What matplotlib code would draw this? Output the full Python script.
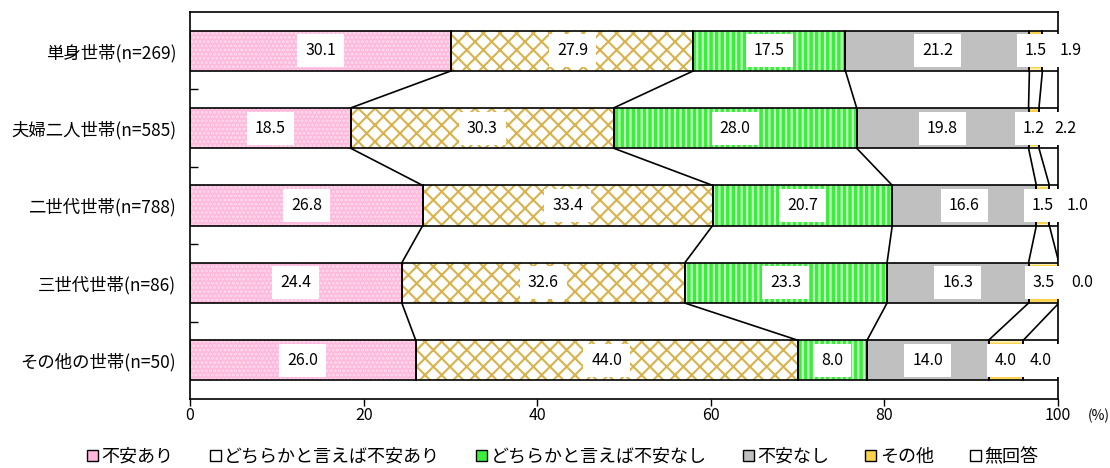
import matplotlib.pyplot as plt
from matplotlib.patches import Patch

plt.rcParams['font.family'] = ['Noto Sans CJK JP', 'DejaVu Sans']
plt.rcParams['hatch.linewidth'] = 1.5

# data
groups = ["単身世帯(n=269)", "夫婦二人世帯(n=585)", "二世代世帯(n=788)",
          "三世代世帯(n=86)", "その他の世帯(n=50)"]
answers = ["不安あり", "どちらかと言えば不安あり", "どちらかと言えば不安なし",
           "不安なし", "その他", "無回答"]
fuan_ari = [30.1, 18.5, 26.8, 24.4, 26.0]
dochira_ari = [27.9, 30.3, 33.4, 32.6, 44.0]
dochira_nashi = [17.5, 28.0, 20.7, 23.3, 8.0]
fuan_nashi = [21.2, 19.8, 16.6, 16.3, 14.0]
sonota = [1.5, 1.2, 1.5, 3.5, 4.0]
mukaitou = [1.9, 2.2, 1.0, 0.0, 4.0]
series = [fuan_ari, dochira_ari, dochira_nashi, fuan_nashi, sonota, mukaitou]

# styles: face colour, hatch, hatch colour
styles = [
    ("#ffb8dc", "....", "#ffdcee"),
    ("white", "xx", "#d8b24c"),
    ("#3bee3b", "|||", "#c8ffc8"),
    ("#c0c0c0", None, "#c0c0c0"),
    ("#fbd34c", "---", "#fff2b8"),
    ("white", None, "white"),
]
# label nudges for the thin 無回答 segments (drawn outside the bar)
nr_label_x = [101.4, 100.9, 102.2, 102.8, None]

fig = plt.figure(figsize=(11.1, 4.68), dpi=100)
ax = fig.add_axes([0.1712, 0.1474, 0.782, 0.827])

bar_h = 0.52
ypos = list(range(len(groups)))
lefts = [0.0] * len(groups)
cums = []
for k, vals in enumerate(series):
    face, hatch, hcol = styles[k]
    ax.barh(ypos, vals, left=lefts, height=bar_h, color=face, hatch=hatch,
            edgecolor=hcol, linewidth=0, zorder=2)
    ax.barh(ypos, vals, left=lefts, height=bar_h, fill=False,
            edgecolor="black", linewidth=1.2, zorder=3)
    for i, v in enumerate(vals):
        x = lefts[i] + v / 2
        if k == 5 and nr_label_x[i] is not None:
            x = nr_label_x[i]
        ax.text(x, i, f"{v:.1f}", ha="center", va="center", fontsize=11.5,
                zorder=5, bbox=dict(boxstyle="square,pad=0.5", fc="white", ec="none"))
    lefts = [lefts[i] + vals[i] for i in range(len(groups))]
    cums.append(list(lefts))

# connector lines between bars
for k in range(len(series) - 1):
    for i in range(len(groups) - 1):
        ax.plot([cums[k][i], cums[k][i + 1]], [i + bar_h / 2, i + 1 - bar_h / 2],
                color="black", linewidth=1.2, zorder=4)

ax.set_xlim(0, 100)
ax.set_ylim(len(groups) - 0.5, -0.5)
ax.set_yticks(ypos)
ax.set_yticklabels(groups, fontsize=12.5)
ax.tick_params(axis="y", which="major", length=0, pad=10)
ax.set_yticks([0.5, 1.5, 2.5, 3.5], minor=True)
ax.tick_params(axis="y", which="minor", direction="in", length=6, width=1)
ax.set_xticks([0, 20, 40, 60, 80, 100])
ax.tick_params(axis="x", direction="out", length=5, width=1, labelsize=11.5, pad=1)
for s in ax.spines.values():
    s.set_linewidth(1.2)
ax.text(1.047, -0.025, "(%)", transform=ax.transAxes, fontsize=10,
        ha="center", va="top")

handles = [Patch(facecolor=styles[k][0], edgecolor="black", linewidth=1)
           for k in range(len(answers))]
fig.legend(handles, answers, loc="lower center", bbox_to_anchor=(0.507, -0.03),
           ncol=6, frameon=False, fontsize=13, handlelength=0.6,
           handleheight=0.6, handletextpad=0.2, columnspacing=2.0)

fig.savefig("out.png", dpi=100)
